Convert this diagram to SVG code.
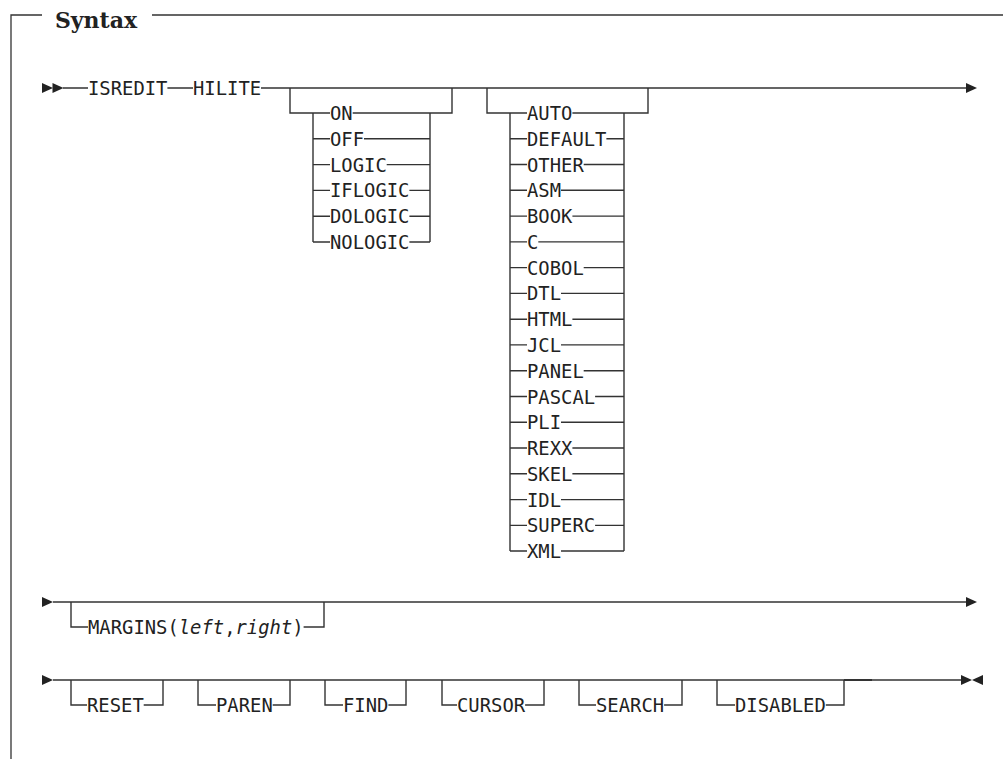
<svg xmlns="http://www.w3.org/2000/svg" width="1003" height="759" viewBox="0 0 1003 759">
<style>
.ln{stroke:#333;stroke-width:1.4;fill:none}
.fr{stroke:#333;stroke-width:1.3;fill:none}
.kw{font-family:"DejaVu Sans Mono","Liberation Mono",monospace;font-size:18.85px;fill:#222}
.it{font-style:italic}
.ttl{font-family:"DejaVu Serif","Liberation Serif",serif;font-weight:bold;font-size:22px;fill:#222}
.ah{fill:#222}
</style>
<defs>
<path id="tr" d="M0,-5 L11,0 L0,5 Z"/>
<path id="tl" d="M0,0 L11,-5 L11,5 Z"/>
</defs>
<rect width="1003" height="759" fill="#fff"/>
<g id="frame">
<path class="fr" d="M42,15 H11 V759 M152,15 H1003"/>
<text class="ttl" x="55" y="28" textLength="82">Syntax</text>
</g>
<g id="connectors">
<!-- row 1 -->
<path class="ln" d="M63,88 H88 M167.4,88 H193 M261,88 H966"/>
<use href="#tr" class="ah" x="42" y="88"/>
<use href="#tr" class="ah" x="52.5" y="88"/>
<use href="#tr" class="ah" x="966" y="88"/>
<!-- group 1 -->
<path class="ln" d="M290,88 V113 H330 M313,113 V242 M452,88 V113 H352.7 M430,113 V242
M313,138.8 H330 M364,138.8 H430
M313,164.6 H330 M386.7,164.6 H430
M313,190.4 H330 M409.4,190.4 H430
M313,216.2 H330 M409.4,216.2 H430
M313,242 H330 M409.4,242 H430"/>
<!-- group 2 -->
<path class="ln" d="M487,88 V113 H527 M510,113 V551 M648,88 V113 H572.4 M624,113 V551
M510,138.8 H527 M606.4,138.8 H624
M510,164.5 H527 M583.7,164.5 H624
M510,190.3 H527 M561,190.3 H624
M510,216.1 H527 M572.4,216.1 H624
M510,241.9 H527 M538.3,241.9 H624
M510,267.6 H527 M583.7,267.6 H624
M510,293.4 H527 M561,293.4 H624
M510,319.2 H527 M572.4,319.2 H624
M510,344.9 H527 M561,344.9 H624
M510,370.7 H527 M583.7,370.7 H624
M510,396.5 H527 M595.1,396.5 H624
M510,422.3 H527 M561,422.3 H624
M510,448 H527 M572.4,448 H624
M510,473.8 H527 M572.4,473.8 H624
M510,499.6 H527 M561,499.6 H624
M510,525.4 H527 M595.1,525.4 H624
M510,551 H527 M561,551 H624"/>
<!-- row 2 -->
<path class="ln" d="M53,602 H966 M71,602 V627 H88 M303.6,627 H324 V602"/>
<use href="#tr" class="ah" x="42" y="602"/>
<use href="#tr" class="ah" x="966" y="602"/>
<!-- row 3 -->
<path class="ln" d="M53,680 H961
M71,680 V705 H87 M143.7,705 H163 V680
M198,680 V705 H216 M272.7,705 H290 V680
M325,680 V705 H343 M388.4,705 H406 V680
M442,680 V705 H457 M525.1,705 H544 V680
M579,680 V705 H596 M664.1,705 H682 V680
M717,680 V705 H735 M825.8,705 H844 V680"/>
<path stroke="#333" stroke-width="2" d="M844,680 H872"/>
<use href="#tr" class="ah" x="42" y="680"/>
<use href="#tr" class="ah" x="961" y="680"/>
<use href="#tl" class="ah" x="972" y="680"/>
</g>
<g id="n-isredit"><text class="kw" x="88" y="95">ISREDIT</text></g>
<g id="n-hilite"><text class="kw" x="193" y="95">HILITE</text></g>
<g id="n-on"><text class="kw" x="330" y="120">ON</text></g>
<g id="n-off"><text class="kw" x="330" y="145.8">OFF</text></g>
<g id="n-logic"><text class="kw" x="330" y="171.6">LOGIC</text></g>
<g id="n-iflogic"><text class="kw" x="330" y="197.4">IFLOGIC</text></g>
<g id="n-dologic"><text class="kw" x="330" y="223.2">DOLOGIC</text></g>
<g id="n-nologic"><text class="kw" x="330" y="249">NOLOGIC</text></g>
<g id="n-auto"><text class="kw" x="527" y="120">AUTO</text></g>
<g id="n-default"><text class="kw" x="527" y="145.8">DEFAULT</text></g>
<g id="n-other"><text class="kw" x="527" y="171.5">OTHER</text></g>
<g id="n-asm"><text class="kw" x="527" y="197.3">ASM</text></g>
<g id="n-book"><text class="kw" x="527" y="223.1">BOOK</text></g>
<g id="n-c"><text class="kw" x="527" y="248.9">C</text></g>
<g id="n-cobol"><text class="kw" x="527" y="274.6">COBOL</text></g>
<g id="n-dtl"><text class="kw" x="527" y="300.4">DTL</text></g>
<g id="n-html"><text class="kw" x="527" y="326.2">HTML</text></g>
<g id="n-jcl"><text class="kw" x="527" y="351.9">JCL</text></g>
<g id="n-panel"><text class="kw" x="527" y="377.7">PANEL</text></g>
<g id="n-pascal"><text class="kw" x="527" y="403.5">PASCAL</text></g>
<g id="n-pli"><text class="kw" x="527" y="429.3">PLI</text></g>
<g id="n-rexx"><text class="kw" x="527" y="455">REXX</text></g>
<g id="n-skel"><text class="kw" x="527" y="480.8">SKEL</text></g>
<g id="n-idl"><text class="kw" x="527" y="506.6">IDL</text></g>
<g id="n-superc"><text class="kw" x="527" y="532.4">SUPERC</text></g>
<g id="n-xml"><text class="kw" x="527" y="558">XML</text></g>
<g id="n-margins"><text class="kw" x="88" y="634">MARGINS(<tspan class="it">left</tspan>,<tspan class="it">right</tspan>)</text></g>
<g id="n-reset"><text class="kw" x="87" y="712">RESET</text></g>
<g id="n-paren"><text class="kw" x="216" y="712">PAREN</text></g>
<g id="n-find"><text class="kw" x="343" y="712">FIND</text></g>
<g id="n-cursor"><text class="kw" x="457" y="712">CURSOR</text></g>
<g id="n-search"><text class="kw" x="596" y="712">SEARCH</text></g>
<g id="n-disabled"><text class="kw" x="735" y="712">DISABLED</text></g>
</svg>
